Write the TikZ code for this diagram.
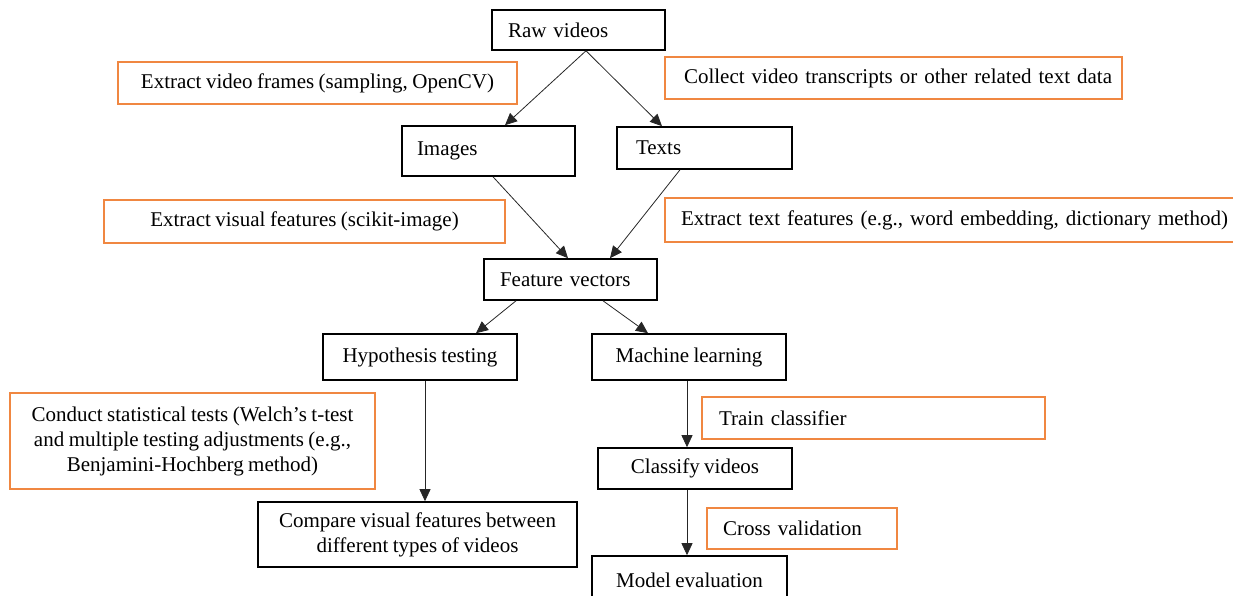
\documentclass[tikz,border=0pt]{standalone}
\usepackage{fontspec}
\setmainfont{Liberation Serif}[WordSpace=0.85]
\usepackage{tikz}
\usetikzlibrary{arrows.meta}

\definecolor{noteorange}{RGB}{240,135,65}

\tikzset{
    stagebox/.style={draw=black, line width=1.6pt, inner xsep=0pt, inner ysep=0pt, align=center},
    notebox/.style={draw=noteorange, line width=1.2pt, inner xsep=0pt, inner ysep=0pt, align=center},
    flow/.style={line width=0.8pt, draw=black!85, -{Triangle[length=12pt,width=11pt]}}
}

\begin{document}
\begin{tikzpicture}[x=1pt, y=-1pt, font=\fontsize{21}{25}\selectfont]
    \useasboundingbox (0,0) rectangle (1233,596);
    \clip (0,0) rectangle (1233,596);

    % Source data at the top
    \node[stagebox, minimum width=173pt, minimum height=40pt, text width=141pt, align=left, inner xsep=16pt] (raw) at (578.5,30) {\mbox{Raw videos}};

    % Notes for the two branches coming from the videos
    \node[notebox, minimum width=399pt, minimum height=42pt] (frames) at (317.5,83) {Extract video frames (sampling, OpenCV)};
    \node[notebox, minimum width=457pt, minimum height=42pt, text width=419pt, align=left, inner xsep=19pt] (collect) at (893.5,78) {\mbox{Collect video transcripts or other related text data}};

    % Images and texts
    \node[stagebox, minimum width=173pt, minimum height=50pt, text width=143pt, align=left, inner xsep=15pt] (images) at (488.5,151) {\mbox{Images}};
    \node[stagebox, minimum width=175pt, minimum height=42pt, text width=137pt, align=left, inner xsep=19pt] (texts) at (704.5,148) {\mbox{Texts}};

    \draw[flow] ([xshift=7.5pt]raw.south) -- ([xshift=16.5pt]images.north);
    \draw[flow] ([xshift=7.5pt]raw.south) -- ([xshift=-42.5pt]texts.north);

    % Feature extraction notes
    \node[notebox, minimum width=401pt, minimum height=43pt] (visual) at (304.5,221.5) {Extract visual features (scikit-image)};
    \node[notebox, minimum width=575pt, minimum height=44pt, text width=543pt, align=left, inner xsep=16pt] (textfeat) at (952.5,220) {\mbox{Extract text features (e.g., word embedding, dictionary method)}};

    % Feature vectors
    \node[stagebox, minimum width=173pt, minimum height=41pt, text width=141pt, align=left, inner xsep=16pt] (feature) at (570.5,279.5) {\mbox{Feature vectors}};

    \draw[flow] ([xshift=4.5pt]images.south) -- ([xshift=-2.5pt]feature.north);
    \draw[flow] ([xshift=-24.5pt]texts.south) -- ([xshift=39.5pt]feature.north);

    % Two kinds of analysis
    \node[stagebox, minimum width=194pt, minimum height=46pt] (hypo) at (420,357) {Hypothesis testing};
    \node[stagebox, minimum width=194pt, minimum height=46pt] (ml) at (689,357) {Machine learning};

    \draw[flow] ([xshift=-54.5pt]feature.south) -- ([xshift=56pt]hypo.north);
    \draw[flow] ([xshift=32.5pt]feature.south) -- ([xshift=-41pt]ml.north);

    % Hypothesis testing branch
    \node[notebox, minimum width=365pt, minimum height=96pt] (conduct) at (192.5,441) {Conduct statistical tests (Welch’s t-test\\and multiple testing adjustments (e.g.,\\Benjamini-Hochberg method)};
    \node[stagebox, minimum width=319pt, minimum height=65pt] (compare) at (417.5,534.5) {Compare visual features between\\different types of videos};

    \draw[flow] ([xshift=5pt]hypo.south) -- ([xshift=7.5pt]compare.north);

    % Machine learning branch
    \node[notebox, minimum width=343pt, minimum height=42pt, text width=309pt, align=left, inner xsep=17pt] (train) at (873.5,418) {\mbox{Train classifier}};
    \node[stagebox, minimum width=194pt, minimum height=41pt] (classify) at (695,468.5) {Classify videos};
    \node[notebox, minimum width=190pt, minimum height=41pt, text width=158pt, align=left, inner xsep=16pt] (cross) at (802,528.5) {\mbox{Cross validation}};
    \node[stagebox, minimum width=195pt, minimum height=48pt] (model) at (689.5,580) {Model evaluation};

    \draw[flow] ([xshift=-2pt]ml.south) -- ([xshift=-8pt]classify.north);
    \draw[flow] ([xshift=-8pt]classify.south) -- ([xshift=-2.5pt]model.north);
\end{tikzpicture}
\end{document}
